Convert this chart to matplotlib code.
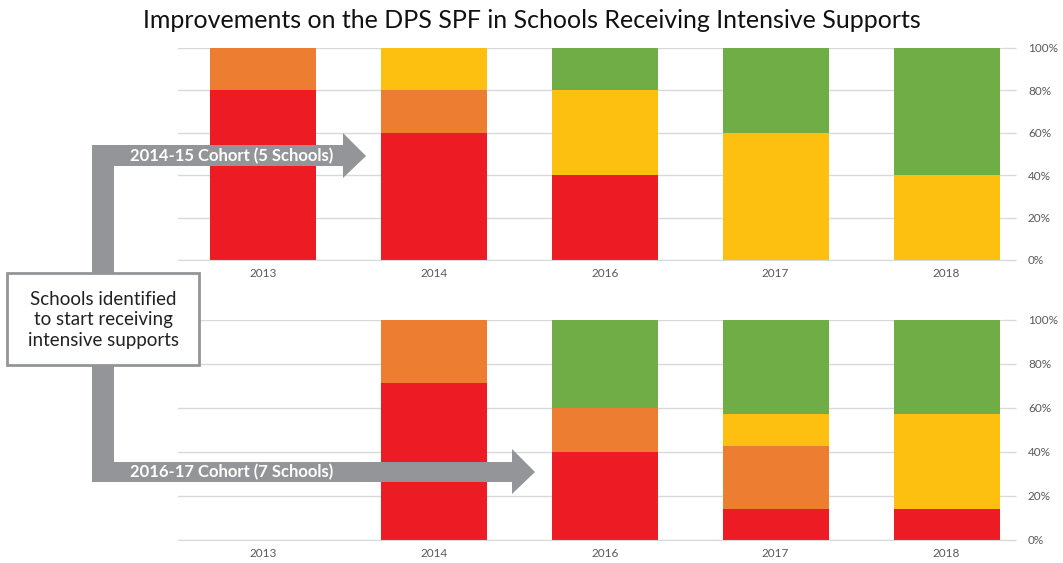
import numpy as np
import matplotlib
matplotlib.use("Agg")
import matplotlib.pyplot as plt
from matplotlib.patches import Polygon, Rectangle

plt.rcParams['font.family'] = ['Lato', 'DejaVu Sans']

years = ['2013', '2014', '2016', '2017', '2018']
levels = ['red', 'orange', 'yellow', 'green']
colors = ['#ED1C24', '#ED7D31', '#FDC010', '#70AD47']

# share of schools per rating (%), 2014-15 cohort (5 schools)
top_red = [80, 60, 40, 0, 0]
top_orange = [20, 20, 0, 0, 0]
top_yellow = [0, 20, 40, 60, 40]
top_green = [0, 0, 20, 40, 60]

# 2016-17 cohort (7 schools)
bot_red = [0, 71.4, 40, 14.3, 14.3]
bot_orange = [0, 28.6, 20, 28.6, 0]
bot_yellow = [0, 0, 0, 14.3, 42.8]
bot_green = [0, 0, 40, 42.8, 42.9]

W, H = 1063, 563
fig = plt.figure(figsize=(W / 100, H / 100), dpi=100)


def fx(px):
    return px / W


def fy(py):
    return 1 - py / H


def draw_panel(ax, series):
    x = np.arange(len(years))
    bottom = np.zeros(len(years))
    for vals, c in zip(series, colors):
        ax.bar(x, vals, width=0.62, bottom=bottom, color=c, zorder=2)
        bottom += np.array(vals)
    ax.set_xlim(-0.497, 4.33)
    ax.set_ylim(0, 100)
    ax.set_xticks(x)
    ax.set_xticklabels(years)
    ax.set_yticks(range(0, 101, 20))
    ax.set_yticklabels([f'{v}%' for v in range(0, 101, 20)])
    ax.yaxis.tick_right()
    ax.tick_params(axis='y', length=9, width=1, color='#d9d9d9',
                   labelsize=8.5, labelcolor='#595959', pad=9)
    ax.tick_params(axis='x', length=0, labelsize=8.5, labelcolor='#595959', pad=6)
    ax.grid(axis='y', color='#d9d9d9', lw=1, zorder=0)
    for s in ['top', 'left', 'right']:
        ax.spines[s].set_visible(False)
    ax.spines['bottom'].set_color('#d9d9d9')
    ax.set_axisbelow(True)


ax1 = fig.add_axes([fx(178), fy(260), fx(1003 - 178), (260 - 48) / H])
draw_panel(ax1, [top_red, top_orange, top_yellow, top_green])
ax2 = fig.add_axes([fx(178), fy(540), fx(1003 - 178), (540 - 320) / H])
draw_panel(ax2, [bot_red, bot_orange, bot_yellow, bot_green])

fig.text(0.5, fy(20), 'Improvements on the DPS SPF in Schools Receiving Intensive Supports',
         ha='center', va='center', fontsize=18, color='#111111')

gray = '#939598'
# arrow path from box up and down to the cohorts
top_arrow = [(92, 482), (92, 145), (343, 145), (343, 133), (366, 156),
             (343, 178), (343, 166), (114, 166), (114, 482)]
bot_arrow = [(92, 300), (92, 482), (512, 482), (512, 494), (535, 472),
             (512, 449), (512, 462), (114, 462), (114, 300)]
for pts in [top_arrow, bot_arrow]:
    fig.patches.append(Polygon([(fx(a), fy(b)) for a, b in pts], closed=True,
                               transform=fig.transFigure, facecolor=gray,
                               edgecolor='none', zorder=5))

fig.text(fx(232), fy(156), '2014-15 Cohort (5 Schools)', color='white',
         fontsize=12, fontweight='bold', ha='center', va='center', zorder=6)
fig.text(fx(232), fy(472), '2016-17 Cohort (7 Schools)', color='white',
         fontsize=12, fontweight='bold', ha='center', va='center', zorder=6)

fig.patches.append(Rectangle((fx(7), fy(365)), fx(199 - 7), (365 - 273) / H,
                             transform=fig.transFigure, facecolor='white',
                             edgecolor=gray, lw=2, zorder=7))
fig.text(fx(103), fy(320), 'Schools identified\nto start receiving\nintensive supports',
         ha='center', va='center', fontsize=13.5, color='#222222',
         linespacing=1.25, zorder=8)

fig.savefig('out.png', dpi=100)
